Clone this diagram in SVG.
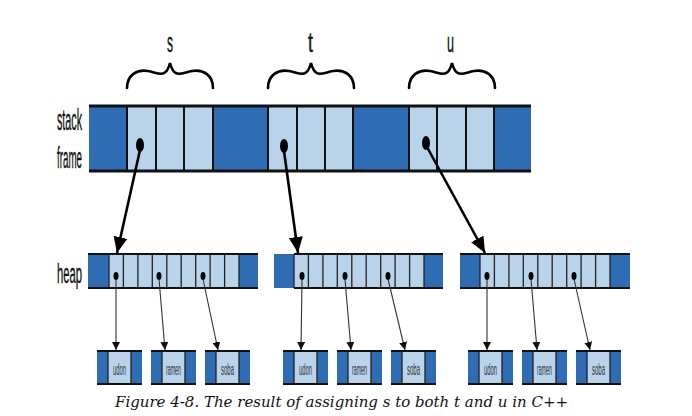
<svg xmlns="http://www.w3.org/2000/svg" width="692" height="416" viewBox="0 0 692 416">
<defs>
<style>
.dk{fill:#2e6db4}
.lt{fill:#b9d4ea}
.bar{stroke:#111;stroke-width:3;fill:none}
.hbar{stroke:#111;stroke-width:2;fill:none}
.div{stroke:#111;stroke-width:2}
.hdiv{stroke:#222;stroke-width:1.3}
.lab{font-family:"Liberation Sans",Arial,sans-serif;fill:#111;stroke:#111;stroke-width:0.4}
.blab{font-family:"Liberation Sans",Arial,sans-serif;fill:#333;font-size:16px}
.brace{fill:none;stroke:#000;stroke-width:2.6;stroke-linecap:round}
.big{stroke:#000;stroke-width:2.6;fill:none}
.thin{stroke:#333;stroke-width:1.1;fill:none}
.cap{font-family:"DejaVu Serif",serif;font-style:italic;font-size:15px;fill:#111}
</style>
<marker id="ah" markerUnits="userSpaceOnUse" markerWidth="18" markerHeight="14" refX="16" refY="7" orient="auto">
<path d="M0,0 L16,7 L0,14 Z" fill="#000"/>
</marker>
<marker id="sa" markerUnits="userSpaceOnUse" markerWidth="9" markerHeight="8" refX="8" refY="4" orient="auto">
<path d="M0,0 L8,4 L0,8 Z" fill="#111"/>
</marker>
</defs>
<rect width="692" height="416" fill="#fff"/>

<g id="labels">
<text class="lab" x="57" y="130" font-size="30" textLength="25" lengthAdjust="spacingAndGlyphs">stack</text>
<text class="lab" x="57" y="168" font-size="29" textLength="25" lengthAdjust="spacingAndGlyphs">frame</text>
<text class="lab" x="57" y="283" font-size="27" textLength="25" lengthAdjust="spacingAndGlyphs">heap</text>
<text class="lab" x="167" y="52" font-size="28" textLength="6" lengthAdjust="spacingAndGlyphs">s</text>
<text class="lab" x="308" y="52" font-size="28" textLength="5" lengthAdjust="spacingAndGlyphs">t</text>
<text class="lab" x="447" y="52" font-size="28" textLength="7" lengthAdjust="spacingAndGlyphs">u</text>
</g>

<g id="braces">
<path class="brace" d="M127,88 C127,75 137,69 148,71 C159,73 166,79 170,63 C174,79 181,73 192,71 C203,69 213,75 213,88"/>
<path class="brace" d="M268,88 C268,75 278,69 289,71 C300,73 307,79 311,63 C315,79 322,73 333,71 C344,69 354,75 354,88"/>
<path class="brace" d="M409,88 C409,75 419,69 430,71 C441,73 448,79 452,63 C456,79 463,73 474,71 C485,69 495,75 495,88"/>
</g>

<g id="stack">
<rect class="dk" x="89" y="106" width="442" height="65"/>
<rect class="lt" x="127" y="106" width="86" height="65"/>
<rect class="lt" x="268" y="106" width="85" height="65"/>
<rect class="lt" x="409" y="106" width="85" height="65"/>
<g class="div">
<line x1="127" y1="106" x2="127" y2="171"/><line x1="156" y1="106" x2="156" y2="171"/><line x1="184" y1="106" x2="184" y2="171"/><line x1="213" y1="106" x2="213" y2="171"/>
<line x1="268" y1="106" x2="268" y2="171"/><line x1="297" y1="106" x2="297" y2="171"/><line x1="325" y1="106" x2="325" y2="171"/><line x1="353" y1="106" x2="353" y2="171"/>
<line x1="409" y1="106" x2="409" y2="171"/><line x1="437" y1="106" x2="437" y2="171"/><line x1="466" y1="106" x2="466" y2="171"/><line x1="494" y1="106" x2="494" y2="171"/>
</g>
<line class="bar" x1="89" y1="106" x2="531" y2="106"/>
<line class="bar" x1="89" y1="171" x2="531" y2="171"/>
<ellipse cx="140" cy="145" rx="4" ry="7" fill="#000"/>
<ellipse cx="284" cy="146" rx="4" ry="7" fill="#000"/>
<ellipse cx="426" cy="143" rx="4" ry="7" fill="#000"/>
</g>

<g id="heap1">
<rect class="dk" x="88" y="254" width="170" height="34"/>
<rect class="lt" x="109" y="254" width="130" height="34"/>
<g class="hdiv">
<line x1="109" y1="254" x2="109" y2="288"/><line x1="123.4" y1="254" x2="123.4" y2="288"/><line x1="137.9" y1="254" x2="137.9" y2="288"/><line x1="152.3" y1="254" x2="152.3" y2="288"/><line x1="166.8" y1="254" x2="166.8" y2="288"/><line x1="181.2" y1="254" x2="181.2" y2="288"/><line x1="195.7" y1="254" x2="195.7" y2="288"/><line x1="210.1" y1="254" x2="210.1" y2="288"/><line x1="224.6" y1="254" x2="224.6" y2="288"/><line x1="239" y1="254" x2="239" y2="288"/>
</g>
<line class="hbar" x1="88" y1="254" x2="258" y2="254"/>
<line class="hbar" x1="88" y1="288" x2="258" y2="288"/>
<ellipse cx="116" cy="276" rx="2.5" ry="4" fill="#000"/>
<ellipse cx="159" cy="276" rx="2.5" ry="4" fill="#000"/>
<ellipse cx="203" cy="276" rx="2.5" ry="4" fill="#000"/>
</g>

<g id="heap2">
<rect class="dk" x="274" y="254" width="169" height="34"/>
<rect class="lt" x="294" y="254" width="130" height="34"/>
<g class="hdiv">
<line x1="294" y1="254" x2="294" y2="288"/><line x1="308.4" y1="254" x2="308.4" y2="288"/><line x1="322.9" y1="254" x2="322.9" y2="288"/><line x1="337.3" y1="254" x2="337.3" y2="288"/><line x1="351.8" y1="254" x2="351.8" y2="288"/><line x1="366.2" y1="254" x2="366.2" y2="288"/><line x1="380.7" y1="254" x2="380.7" y2="288"/><line x1="395.1" y1="254" x2="395.1" y2="288"/><line x1="409.6" y1="254" x2="409.6" y2="288"/><line x1="424" y1="254" x2="424" y2="288"/>
</g>
<line class="hbar" x1="294" y1="254" x2="443" y2="254"/>
<line class="hbar" x1="294" y1="288" x2="443" y2="288"/>
<ellipse cx="302" cy="276" rx="2.5" ry="4" fill="#000"/>
<ellipse cx="345" cy="276" rx="2.5" ry="4" fill="#000"/>
<ellipse cx="388" cy="276" rx="2.5" ry="4" fill="#000"/>
</g>

<g id="heap3">
<rect class="dk" x="460" y="254" width="170" height="34"/>
<rect class="lt" x="480" y="254" width="130" height="34"/>
<g class="hdiv">
<line x1="480" y1="254" x2="480" y2="288"/><line x1="494.4" y1="254" x2="494.4" y2="288"/><line x1="508.9" y1="254" x2="508.9" y2="288"/><line x1="523.3" y1="254" x2="523.3" y2="288"/><line x1="537.8" y1="254" x2="537.8" y2="288"/><line x1="552.2" y1="254" x2="552.2" y2="288"/><line x1="566.7" y1="254" x2="566.7" y2="288"/><line x1="581.1" y1="254" x2="581.1" y2="288"/><line x1="595.6" y1="254" x2="595.6" y2="288"/><line x1="610" y1="254" x2="610" y2="288"/>
</g>
<line class="hbar" x1="460" y1="254" x2="630" y2="254"/>
<line class="hbar" x1="460" y1="288" x2="630" y2="288"/>
<ellipse cx="487" cy="276" rx="2.5" ry="4" fill="#000"/>
<ellipse cx="531" cy="276" rx="2.5" ry="4" fill="#000"/>
<ellipse cx="574" cy="276" rx="2.5" ry="4" fill="#000"/>
</g>

<g id="box-udon1"><rect class="dk" x="97" y="351" width="45" height="33"/><rect class="lt" x="108" y="351" width="23" height="33"/><path class="hdiv" d="M108,351V384M131,351V384"/><path class="hbar" d="M97,351H142M97,384H142"/><text class="blab" x="113" y="375" textLength="13" lengthAdjust="spacingAndGlyphs">udon</text></g>
<g id="box-ramen1"><rect class="dk" x="151" y="351" width="45" height="33"/><rect class="lt" x="162" y="351" width="23" height="33"/><path class="hdiv" d="M162,351V384M185,351V384"/><path class="hbar" d="M151,351H196M151,384H196"/><text class="blab" x="166" y="375" textLength="15" lengthAdjust="spacingAndGlyphs">ramen</text></g>
<g id="box-soba1"><rect class="dk" x="205" y="351" width="45" height="33"/><rect class="lt" x="216" y="351" width="23" height="33"/><path class="hdiv" d="M216,351V384M239,351V384"/><path class="hbar" d="M205,351H250M205,384H250"/><text class="blab" x="221" y="375" textLength="13" lengthAdjust="spacingAndGlyphs">soba</text></g>

<g id="box-udon2"><rect class="dk" x="283" y="351" width="45" height="33"/><rect class="lt" x="294" y="351" width="23" height="33"/><path class="hdiv" d="M294,351V384M317,351V384"/><path class="hbar" d="M283,351H328M283,384H328"/><text class="blab" x="299" y="375" textLength="13" lengthAdjust="spacingAndGlyphs">udon</text></g>
<g id="box-ramen2"><rect class="dk" x="337" y="351" width="45" height="33"/><rect class="lt" x="348" y="351" width="23" height="33"/><path class="hdiv" d="M348,351V384M371,351V384"/><path class="hbar" d="M337,351H382M337,384H382"/><text class="blab" x="352" y="375" textLength="15" lengthAdjust="spacingAndGlyphs">ramen</text></g>
<g id="box-soba2"><rect class="dk" x="391" y="351" width="45" height="33"/><rect class="lt" x="402" y="351" width="23" height="33"/><path class="hdiv" d="M402,351V384M425,351V384"/><path class="hbar" d="M391,351H436M391,384H436"/><text class="blab" x="407" y="375" textLength="13" lengthAdjust="spacingAndGlyphs">soba</text></g>

<g id="box-udon3"><rect class="dk" x="468" y="351" width="45" height="33"/><rect class="lt" x="479" y="351" width="23" height="33"/><path class="hdiv" d="M479,351V384M502,351V384"/><path class="hbar" d="M468,351H513M468,384H513"/><text class="blab" x="484" y="375" textLength="13" lengthAdjust="spacingAndGlyphs">udon</text></g>
<g id="box-ramen3"><rect class="dk" x="522" y="351" width="45" height="33"/><rect class="lt" x="533" y="351" width="23" height="33"/><path class="hdiv" d="M533,351V384M556,351V384"/><path class="hbar" d="M522,351H567M522,384H567"/><text class="blab" x="537" y="375" textLength="15" lengthAdjust="spacingAndGlyphs">ramen</text></g>
<g id="box-soba3"><rect class="dk" x="576" y="351" width="45" height="33"/><rect class="lt" x="587" y="351" width="23" height="33"/><path class="hdiv" d="M587,351V384M610,351V384"/><path class="hbar" d="M576,351H621M576,384H621"/><text class="blab" x="592" y="375" textLength="13" lengthAdjust="spacingAndGlyphs">soba</text></g>

<g id="connectors">
<line class="big" x1="140" y1="150" x2="117" y2="253" marker-end="url(#ah)"/>
<line class="big" x1="284" y1="151" x2="298" y2="253" marker-end="url(#ah)"/>
<line class="big" x1="427" y1="147" x2="485" y2="253" marker-end="url(#ah)"/>
<line class="thin" x1="116" y1="279" x2="116" y2="350" marker-end="url(#sa)"/>
<line class="thin" x1="159" y1="279" x2="165" y2="350" marker-end="url(#sa)"/>
<line class="thin" x1="203" y1="279" x2="218" y2="350" marker-end="url(#sa)"/>
<line class="thin" x1="302" y1="279" x2="301" y2="350" marker-end="url(#sa)"/>
<line class="thin" x1="345" y1="279" x2="351" y2="350" marker-end="url(#sa)"/>
<line class="thin" x1="388" y1="279" x2="405" y2="350" marker-end="url(#sa)"/>
<line class="thin" x1="487" y1="279" x2="487" y2="350" marker-end="url(#sa)"/>
<line class="thin" x1="531" y1="279" x2="537" y2="350" marker-end="url(#sa)"/>
<line class="thin" x1="574" y1="279" x2="590" y2="350" marker-end="url(#sa)"/>
</g>

<text class="cap" x="115" y="407" textLength="453" lengthAdjust="spacingAndGlyphs">Figure 4-8. The result of assigning s to both t and u in C++</text>
</svg>
